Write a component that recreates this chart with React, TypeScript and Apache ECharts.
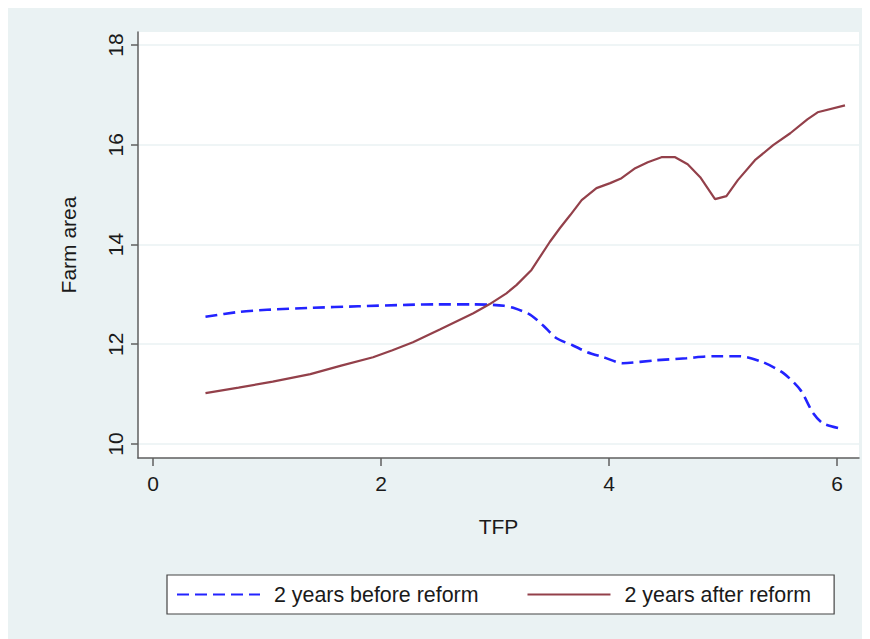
import React, { useEffect, useRef } from 'react';
import * as echarts from 'echarts';

// lowess curves
const tfpBefore = [0.46, 0.76, 1.0, 1.38, 1.8, 2.23, 2.5, 2.81, 2.98, 3.08, 3.16, 3.31, 3.42, 3.54, 3.68, 3.81, 3.95, 4.12, 4.42, 4.68, 4.91, 5.15, 5.35, 5.53, 5.68, 5.79, 5.88, 6.05];
const areaBefore = [12.55, 12.65, 12.69, 12.73, 12.76, 12.79, 12.8, 12.8, 12.79, 12.77, 12.73, 12.59, 12.38, 12.12, 11.98, 11.84, 11.74, 11.62, 11.68, 11.72, 11.76, 11.76, 11.64, 11.42, 11.08, 10.62, 10.41, 10.3];

const tfpAfter = [0.46, 0.75, 1.05, 1.38, 1.65, 1.93, 2.1, 2.28, 2.52, 2.81, 2.95, 3.1, 3.19, 3.32, 3.48, 3.57, 3.66, 3.76, 3.89, 4.01, 4.11, 4.23, 4.34, 4.46, 4.58, 4.69, 4.8, 4.93, 5.03, 5.13, 5.28, 5.44, 5.59, 5.74, 5.83, 6.07];
const areaAfter = [11.02, 11.13, 11.25, 11.4, 11.57, 11.74, 11.88, 12.04, 12.3, 12.62, 12.8, 13.02, 13.19, 13.49, 14.05, 14.33, 14.59, 14.89, 15.13, 15.23, 15.33, 15.53, 15.65, 15.75, 15.75, 15.61, 15.35, 14.91, 14.97, 15.29, 15.69, 15.99, 16.23, 16.51, 16.65, 16.79];

const seriesNames = ['2 years before reform', '2 years after reform'];
const xTicks = [0, 2, 4, 6];
const yTicks = [10, 12, 14, 16, 18];

const FONT = 'Arial, "Liberation Sans", sans-serif';
const AXIS_COLOR = '#5f5f5f';
const BG = '#eaf2f3';

const App: React.FC = () => {
  const chartRef = useRef<HTMLDivElement>(null);

  useEffect(() => {
    if (!chartRef.current) return;
    const chart = echarts.init(chartRef.current, null, { renderer: 'svg' });

    const option = {
      animation: false,
      backgroundColor: BG,
      textStyle: { fontFamily: FONT },
      grid: {
        left: 130,
        top: 24,
        width: 721,
        height: 426,
        show: true,
        backgroundColor: '#fff',
        borderWidth: 0,
      },
      xAxis: {
        type: 'value',
        min: -0.132,
        max: 6.193,
        name: 'TFP',
        nameLocation: 'middle',
        nameGap: 58,
        nameTextStyle: { fontSize: 21, color: '#1a1a1a', fontFamily: FONT },
        axisLine: { show: true, onZero: false, lineStyle: { color: AXIS_COLOR, width: 1.5 } },
        axisTick: { show: true, length: 8, customValues: xTicks, lineStyle: { color: AXIS_COLOR, width: 1.5 } },
        axisLabel: { customValues: xTicks, margin: 15, fontSize: 21, color: '#1a1a1a', fontFamily: FONT },
        splitLine: { show: false },
      },
      yAxis: {
        type: 'value',
        min: 9.719,
        max: 18.26,
        name: 'Farm area',
        nameLocation: 'middle',
        nameRotate: 90,
        nameGap: 59,
        nameTextStyle: { fontSize: 21, color: '#1a1a1a', fontFamily: FONT },
        axisLine: { show: true, onZero: false, lineStyle: { color: AXIS_COLOR, width: 1.5 } },
        axisTick: { show: true, length: 7, customValues: yTicks, lineStyle: { color: AXIS_COLOR, width: 1.5 } },
        axisLabel: {
          customValues: yTicks,
          rotate: 90,
          margin: 12,
          fontSize: 21,
          color: '#1a1a1a',
          fontFamily: FONT,
          showMinLabel: true,
          showMaxLabel: true,
        },
        splitLine: { show: true, lineStyle: { color: BG, width: 1.5 } },
      },
      legend: {
        left: 159,
        top: 567,
        orient: 'horizontal',
        backgroundColor: '#fff',
        borderColor: '#444',
        borderWidth: 1.2,
        borderRadius: 0,
        padding: [9, 23, 9, 9],
        itemWidth: 83,
        itemHeight: 14,
        itemGap: 48,
        itemStyle: { opacity: 0 },
        textStyle: { fontSize: 21.4, color: '#1a1a1a', fontFamily: FONT, padding: [0, 0, 0, 9] },
        data: seriesNames,
      },
      series: [
        {
          name: seriesNames[0],
          type: 'line',
          data: tfpBefore.map((x, i) => [x, areaBefore[i]]),
          showSymbol: false,
          symbol: 'none',
          smooth: 0.25,
          lineStyle: { color: '#2323ff', width: 2.6, type: [12, 6] },
          itemStyle: { color: '#2323ff' },
        },
        {
          name: seriesNames[1],
          type: 'line',
          data: tfpAfter.map((x, i) => [x, areaAfter[i]]),
          showSymbol: false,
          symbol: 'none',
          lineStyle: { color: '#93404a', width: 2.2 },
          itemStyle: { color: '#93404a' },
        },
      ],
    };

    chart.setOption(option);

    return () => {
      chart.dispose();
    };
  }, []);

  return <div ref={chartRef} style={{ width: 862, height: 631 }} />;
};

export default App;
